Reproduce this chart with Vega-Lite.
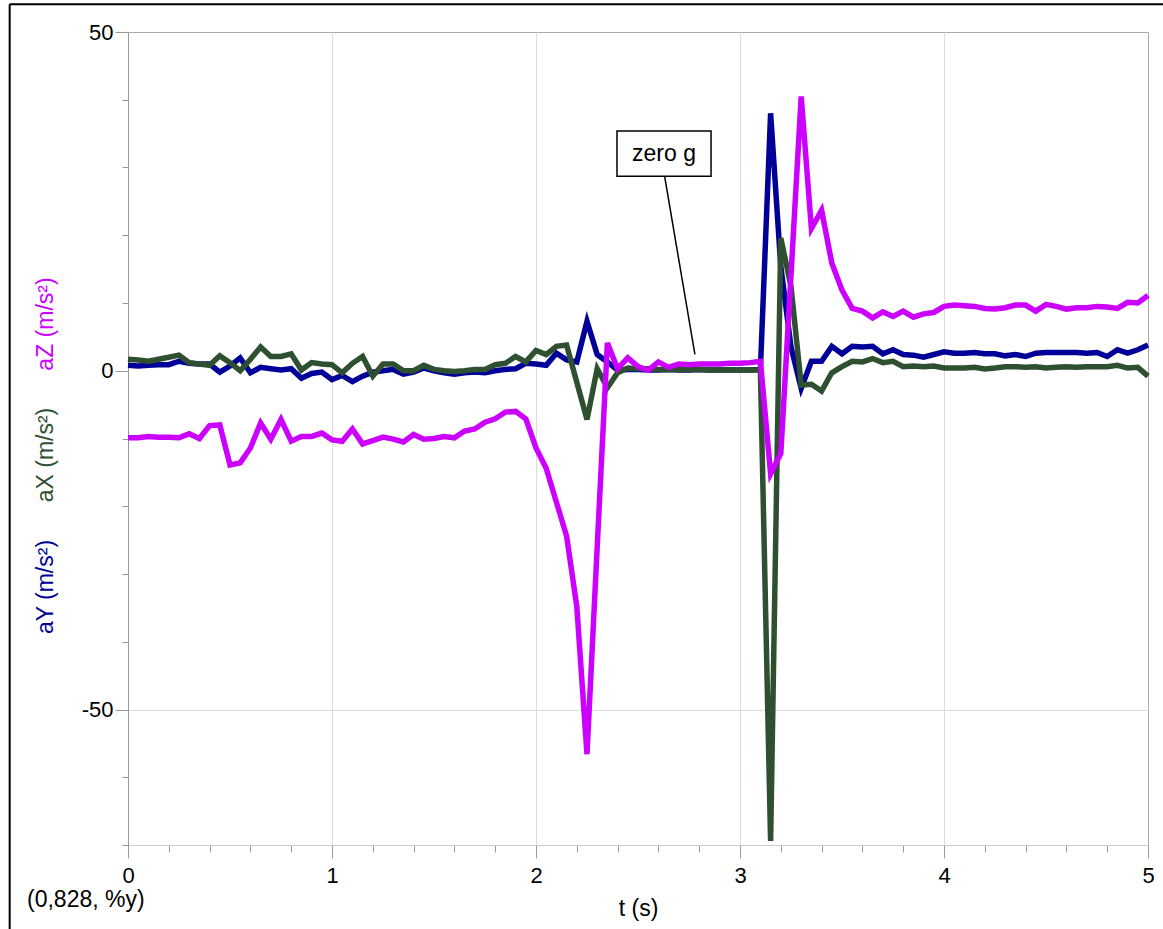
{
  "$schema": "https://vega.github.io/schema/vega-lite/v6.json",
  "width": 1020,
  "height": 813,
  "autosize": "none",
  "padding": {"left": 128, "top": 32, "right": 15, "bottom": 84},
  "background": "white",
  "config": {
    "font": "Liberation Sans",
    "view": {"stroke": "#aaaaaa", "strokeWidth": 1},
    "axis": {
      "labelFont": "Liberation Sans",
      "labelFontSize": 22,
      "labelColor": "black",
      "titleFont": "Liberation Sans",
      "titleFontSize": 23,
      "titleFontWeight": "normal",
      "tickColor": "#999999",
      "domainColor": "#999999",
      "gridColor": "#dddddd",
      "labelOverlap": false,
      "labelFlush": false
    }
  },
  "datasets": {
    "acc": [
      {"t": 0.00, "aY": 0.8, "aX": 1.7, "aZ": -9.9},
      {"t": 0.05, "aY": 0.7, "aX": 1.6, "aZ": -9.9},
      {"t": 0.10, "aY": 0.8, "aX": 1.4, "aZ": -9.7},
      {"t": 0.15, "aY": 0.9, "aX": 1.7, "aZ": -9.8},
      {"t": 0.20, "aY": 0.9, "aX": 2.0, "aZ": -9.8},
      {"t": 0.25, "aY": 1.4, "aX": 2.3, "aZ": -9.9},
      {"t": 0.30, "aY": 1.1, "aX": 1.2, "aZ": -9.3},
      {"t": 0.35, "aY": 1.0, "aX": 1.0, "aZ": -10.0},
      {"t": 0.40, "aY": 1.0, "aX": 0.8, "aZ": -8.1},
      {"t": 0.45, "aY": -0.2, "aX": 2.2, "aZ": -8.0},
      {"t": 0.50, "aY": 0.7, "aX": 1.2, "aZ": -13.9},
      {"t": 0.55, "aY": 1.9, "aX": 0.0, "aZ": -13.6},
      {"t": 0.60, "aY": -0.3, "aX": 1.7, "aZ": -11.4},
      {"t": 0.65, "aY": 0.5, "aX": 3.5, "aZ": -7.7},
      {"t": 0.70, "aY": 0.3, "aX": 2.1, "aZ": -10.1},
      {"t": 0.75, "aY": 0.1, "aX": 2.1, "aZ": -7.2},
      {"t": 0.80, "aY": 0.3, "aX": 2.5, "aZ": -10.4},
      {"t": 0.85, "aY": -1.1, "aX": 0.1, "aZ": -9.7},
      {"t": 0.90, "aY": -0.4, "aX": 1.2, "aZ": -9.7},
      {"t": 0.95, "aY": -0.2, "aX": 1.0, "aZ": -9.2},
      {"t": 1.00, "aY": -1.3, "aX": 0.9, "aZ": -10.2},
      {"t": 1.05, "aY": -0.7, "aX": -0.3, "aZ": -10.4},
      {"t": 1.10, "aY": -1.6, "aX": 1.1, "aZ": -8.6},
      {"t": 1.15, "aY": -0.8, "aX": 2.1, "aZ": -10.8},
      {"t": 1.20, "aY": -0.2, "aX": -0.8, "aZ": -10.3},
      {"t": 1.25, "aY": 0.0, "aX": 1.0, "aZ": -9.8},
      {"t": 1.30, "aY": 0.2, "aX": 1.0, "aZ": -10.1},
      {"t": 1.35, "aY": -0.5, "aX": 0.0, "aZ": -10.5},
      {"t": 1.40, "aY": -0.2, "aX": 0.0, "aZ": -9.4},
      {"t": 1.45, "aY": 0.4, "aX": 0.8, "aZ": -10.1},
      {"t": 1.50, "aY": 0.0, "aX": 0.2, "aZ": -10.0},
      {"t": 1.55, "aY": -0.3, "aX": 0.0, "aZ": -9.7},
      {"t": 1.60, "aY": -0.5, "aX": -0.1, "aZ": -9.9},
      {"t": 1.65, "aY": -0.3, "aX": 0.0, "aZ": -8.9},
      {"t": 1.70, "aY": -0.2, "aX": 0.2, "aZ": -8.6},
      {"t": 1.75, "aY": -0.3, "aX": 0.2, "aZ": -7.6},
      {"t": 1.80, "aY": 0.0, "aX": 0.9, "aZ": -7.1},
      {"t": 1.85, "aY": 0.2, "aX": 1.1, "aZ": -6.1},
      {"t": 1.90, "aY": 0.3, "aX": 2.1, "aZ": -6.0},
      {"t": 1.95, "aY": 1.1, "aX": 1.3, "aZ": -7.1},
      {"t": 2.00, "aY": 1.0, "aX": 3.0, "aZ": -11.4},
      {"t": 2.05, "aY": 0.8, "aX": 2.4, "aZ": -14.4},
      {"t": 2.10, "aY": 2.6, "aX": 3.6, "aZ": -19.4},
      {"t": 2.15, "aY": 1.6, "aX": 3.8, "aZ": -24.4},
      {"t": 2.20, "aY": 1.3, "aX": -1.7, "aZ": -34.8},
      {"t": 2.25, "aY": 7.3, "aX": -7.2, "aZ": -56.6},
      {"t": 2.30, "aY": 2.4, "aX": 0.3, "aZ": -26.0},
      {"t": 2.35, "aY": 1.3, "aX": -2.5, "aZ": 4.1},
      {"t": 2.40, "aY": 0.1, "aX": -0.3, "aZ": 0.3},
      {"t": 2.45, "aY": 0.2, "aX": 0.4, "aZ": 1.9},
      {"t": 2.50, "aY": 0.2, "aX": 0.3, "aZ": 0.6},
      {"t": 2.55, "aY": 0.1, "aX": 0.3, "aZ": 0.1},
      {"t": 2.60, "aY": 0.1, "aX": 0.2, "aZ": 1.3},
      {"t": 2.65, "aY": 0.2, "aX": 0.2, "aZ": 0.5},
      {"t": 2.70, "aY": 0.1, "aX": 0.2, "aZ": 1.0},
      {"t": 2.75, "aY": 0.1, "aX": 0.2, "aZ": 0.9},
      {"t": 2.80, "aY": 0.2, "aX": 0.2, "aZ": 1.0},
      {"t": 2.85, "aY": 0.1, "aX": 0.1, "aZ": 1.0},
      {"t": 2.90, "aY": 0.1, "aX": 0.1, "aZ": 1.0},
      {"t": 2.95, "aY": 0.1, "aX": 0.1, "aZ": 1.1},
      {"t": 3.00, "aY": 0.1, "aX": 0.1, "aZ": 1.1},
      {"t": 3.05, "aY": 0.1, "aX": 0.1, "aZ": 1.2},
      {"t": 3.10, "aY": 0.2, "aX": 0.1, "aZ": 1.4},
      {"t": 3.15, "aY": 38.0, "aX": -69.4, "aZ": -15.2},
      {"t": 3.20, "aY": 15.4, "aX": 19.6, "aZ": -12.2},
      {"t": 3.25, "aY": 3.5, "aX": 12.4, "aZ": 14.1},
      {"t": 3.30, "aY": -2.6, "aX": -2.1, "aZ": 40.5},
      {"t": 3.35, "aY": 1.4, "aX": -2.0, "aZ": 21.0},
      {"t": 3.40, "aY": 1.4, "aX": -3.0, "aZ": 23.7},
      {"t": 3.45, "aY": 3.6, "aX": -0.3, "aZ": 15.9},
      {"t": 3.50, "aY": 2.5, "aX": 0.6, "aZ": 11.9},
      {"t": 3.55, "aY": 3.6, "aX": 1.4, "aZ": 9.2},
      {"t": 3.60, "aY": 3.5, "aX": 1.3, "aZ": 8.8},
      {"t": 3.65, "aY": 3.6, "aX": 1.8, "aZ": 7.8},
      {"t": 3.70, "aY": 2.5, "aX": 1.2, "aZ": 8.7},
      {"t": 3.75, "aY": 3.1, "aX": 1.4, "aZ": 8.0},
      {"t": 3.80, "aY": 2.4, "aX": 0.6, "aZ": 8.8},
      {"t": 3.85, "aY": 2.3, "aX": 0.7, "aZ": 7.9},
      {"t": 3.90, "aY": 2.0, "aX": 0.6, "aZ": 8.4},
      {"t": 3.95, "aY": 2.4, "aX": 0.7, "aZ": 8.6},
      {"t": 4.00, "aY": 2.8, "aX": 0.4, "aZ": 9.5},
      {"t": 4.05, "aY": 2.6, "aX": 0.4, "aZ": 9.7},
      {"t": 4.10, "aY": 2.6, "aX": 0.4, "aZ": 9.6},
      {"t": 4.15, "aY": 2.7, "aX": 0.5, "aZ": 9.5},
      {"t": 4.20, "aY": 2.5, "aX": 0.25, "aZ": 9.2},
      {"t": 4.25, "aY": 2.5, "aX": 0.4, "aZ": 9.1},
      {"t": 4.30, "aY": 2.2, "aX": 0.6, "aZ": 9.3},
      {"t": 4.35, "aY": 2.4, "aX": 0.6, "aZ": 9.7},
      {"t": 4.40, "aY": 2.1, "aX": 0.5, "aZ": 9.7},
      {"t": 4.45, "aY": 2.6, "aX": 0.6, "aZ": 8.8},
      {"t": 4.50, "aY": 2.7, "aX": 0.4, "aZ": 9.8},
      {"t": 4.55, "aY": 2.7, "aX": 0.5, "aZ": 9.5},
      {"t": 4.60, "aY": 2.7, "aX": 0.6, "aZ": 9.1},
      {"t": 4.65, "aY": 2.7, "aX": 0.5, "aZ": 9.3},
      {"t": 4.70, "aY": 2.6, "aX": 0.6, "aZ": 9.3},
      {"t": 4.75, "aY": 2.7, "aX": 0.6, "aZ": 9.5},
      {"t": 4.80, "aY": 2.1, "aX": 0.6, "aZ": 9.4},
      {"t": 4.85, "aY": 3.1, "aX": 0.8, "aZ": 9.2},
      {"t": 4.90, "aY": 2.6, "aX": 0.4, "aZ": 10.1},
      {"t": 4.95, "aY": 3.1, "aX": 0.5, "aZ": 10.0},
      {"t": 5.00, "aY": 3.8, "aX": -0.8, "aZ": 11.1}
    ],
    "note": [
      {"label": "zero g", "t1": 2.397, "t2": 2.858, "v1": 28.7, "v2": 35.4, "tc": 2.6275, "vc": 32.05, "lt1": 2.631, "lv1": 28.6, "lt2": 2.779, "lv2": 2.4}
    ],
    "corner": [
      {"label": "(0,828, %y)", "t": -0.495, "v": -78.1}
    ],
    "frame": [
      {"fx1": -0.58, "fx2": 5.3, "fy1": 54.09, "fy2": -95}
    ]
  },
  "encoding": {
    "x": {
      "field": "t",
      "type": "quantitative",
      "scale": {"domain": [0, 5], "nice": false, "zero": false},
      "axis": {
        "values": [0, 0.2, 0.4, 0.6, 0.8, 1, 1.2, 1.4, 1.6, 1.8, 2, 2.2, 2.4, 2.6, 2.8, 3, 3.2, 3.4, 3.6, 3.8, 4, 4.2, 4.4, 4.6, 4.8, 5],
        "labelExpr": "datum.value % 1 === 0 ? '' + datum.value : ''",
        "tickSize": {"condition": {"test": "datum.value % 1 === 0", "value": 13}, "value": 7},
        "labelPadding": 7,
        "grid": true,
        "gridOpacity": {"condition": {"test": "datum.value % 1 === 0 && datum.value > 0 && datum.value < 5", "value": 1}, "value": 0},
        "domainColor": "#cccccc",
        "title": "t (s)",
        "titleY": 63,
        "titleBaseline": "middle",
        "titleColor": "black"
      }
    }
  },
  "layer": [
    {
      "encoding": {
        "y": {
          "field": "aY",
          "type": "quantitative",
          "scale": {"domain": [-70, 50], "nice": false, "zero": false},
          "axis": {
            "orient": "left",
            "values": [50, 40, 30, 20, 10, 0, -10, -20, -30, -40, -50, -60, -70],
            "labelExpr": "datum.value % 50 === 0 ? '' + datum.value : ''",
            "tickSize": {"condition": {"test": "datum.value % 50 === 0", "value": 13}, "value": 6},
            "labelPadding": 2,
            "grid": true,
            "gridOpacity": {"condition": {"test": "datum.value === -50", "value": 1}, "value": 0},
            "title": "aY (m/s²)",
            "titleColor": "#000099",
            "titleAngle": -90,
            "titleAlign": "center",
            "titleBaseline": "middle",
            "titleX": -83,
            "titleY": 554.5
          }
        }
      },
      "layer": [
        {
          "data": {"name": "frame"},
          "mark": {"type": "rule", "color": "black", "strokeWidth": 2, "clip": false},
          "encoding": {
            "x": {"field": "fx1", "type": "quantitative"},
            "y": {"field": "fy1", "type": "quantitative"},
            "y2": {"field": "fy2"}
          }
        },
        {
          "data": {"name": "frame"},
          "mark": {"type": "rule", "color": "black", "strokeWidth": 2, "clip": false},
          "encoding": {
            "x": {"field": "fx1", "type": "quantitative"},
            "x2": {"field": "fx2"},
            "y": {"field": "fy1", "type": "quantitative"}
          }
        },
        {
          "data": {"name": "corner"},
          "mark": {"type": "rule", "color": "#bbbbbb", "strokeWidth": 2},
          "encoding": {"y": {"datum": 0}}
        },
        {
          "data": {"name": "acc"},
          "mark": {"type": "line", "color": "#000099", "strokeWidth": 5.5}
        },
        {
          "data": {"name": "note"},
          "mark": {"type": "rule", "color": "black", "strokeWidth": 1.5},
          "encoding": {
            "x": {"field": "lt1", "type": "quantitative"},
            "x2": {"field": "lt2"},
            "y": {"field": "lv1", "type": "quantitative"},
            "y2": {"field": "lv2"}
          }
        },
        {
          "data": {"name": "note"},
          "mark": {"type": "rect", "fill": "white", "stroke": "black", "strokeWidth": 1.5},
          "encoding": {
            "x": {"field": "t1", "type": "quantitative"},
            "x2": {"field": "t2"},
            "y": {"field": "v1", "type": "quantitative"},
            "y2": {"field": "v2"}
          }
        },
        {
          "data": {"name": "note"},
          "mark": {"type": "text", "fontSize": 23, "font": "Liberation Sans", "color": "black", "align": "center", "baseline": "middle"},
          "encoding": {
            "x": {"field": "tc", "type": "quantitative"},
            "y": {"field": "vc", "type": "quantitative"},
            "text": {"field": "label"}
          }
        },
        {
          "data": {"name": "corner"},
          "mark": {"type": "text", "fontSize": 23, "font": "Liberation Sans", "color": "black", "align": "left", "baseline": "middle"},
          "encoding": {
            "x": {"field": "t", "type": "quantitative"},
            "y": {"field": "v", "type": "quantitative"},
            "text": {"field": "label"}
          }
        }
      ]
    },
    {
      "data": {"name": "acc"},
      "mark": {"type": "line", "color": "#2E5030", "strokeWidth": 5.5},
      "encoding": {
        "y": {
          "field": "aX",
          "type": "quantitative",
          "scale": {"domain": [-70, 50], "nice": false, "zero": false},
          "axis": {
            "orient": "left",
            "labels": false,
            "ticks": false,
            "domain": false,
            "grid": false,
            "title": "aX (m/s²)",
            "titleColor": "#2E5030",
            "titleAngle": -90,
            "titleAlign": "center",
            "titleBaseline": "middle",
            "titleX": -83,
            "titleY": 422.5
          }
        }
      }
    },
    {
      "data": {"name": "acc"},
      "mark": {"type": "line", "color": "#CC00FF", "strokeWidth": 5.5},
      "encoding": {
        "y": {
          "field": "aZ",
          "type": "quantitative",
          "scale": {"domain": [-70, 50], "nice": false, "zero": false},
          "axis": {
            "orient": "left",
            "labels": false,
            "ticks": false,
            "domain": false,
            "grid": false,
            "title": "aZ (m/s²)",
            "titleColor": "#CC00FF",
            "titleAngle": -90,
            "titleAlign": "center",
            "titleBaseline": "middle",
            "titleX": -83,
            "titleY": 291.5
          }
        }
      }
    }
  ],
  "resolve": {"scale": {"y": "independent"}}
}
